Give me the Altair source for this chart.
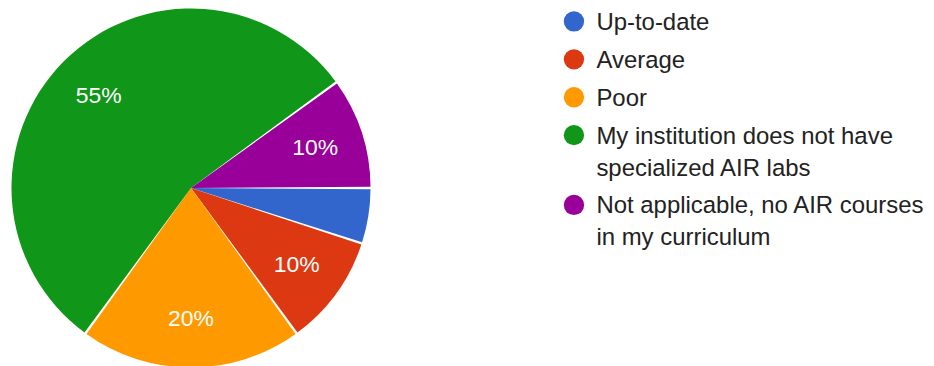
import math
import altair as alt
import pandas as pd

# ---- data ----
categories = [
    "Up-to-date",
    "Average",
    "Poor",
    "My institution does not have specialized AIR labs",
    "Not applicable, no AIR courses in my curriculum",
]
legend_lines = [
    ["Up-to-date"],
    ["Average"],
    ["Poor"],
    ["My institution does not have", "specialized AIR labs"],
    ["Not applicable, no AIR courses", "in my curriculum"],
]
values = [5, 10, 20, 55, 10]
pct_labels = ["", "10%", "20%", "55%", "10%"]
colors = ["#3366cc", "#dc3912", "#ff9900", "#109618", "#990099"]

# legend row positions (in line units) derived from the number of wrapped lines
gap = 6 / 32
pos, acc = [], 0.0
for i, lines in enumerate(legend_lines):
    pos.append(acc)
    acc += len(lines) + gap

df = pd.DataFrame({
    "cat": categories,
    "value": values,
    "pct": pct_labels,
    "idx": list(range(len(categories))),
    "lines": legend_lines,
    "pos": pos,
})

color_scale = alt.Scale(domain=categories, range=colors)
theta_scale = alt.Scale(range=[math.pi / 2, math.pi / 2 + 2 * math.pi])

base = alt.Chart(df).encode(
    theta=alt.Theta("value:Q", stack=True, scale=theta_scale),
    order=alt.Order("idx:Q"),
)

arcs = base.mark_arc(outerRadius=180, padAngle=2.4 / 180, strokeWidth=0).encode(
    color=alt.Color("cat:N", scale=color_scale, legend=None)
)
texts = base.mark_text(
    radius=131, fontSize=23, font="Liberation Sans", color="white",
    align="center", baseline="middle"
).encode(text="pct:N")

pie = alt.layer(arcs, texts).properties(width=360, height=360)

yscale = alt.Scale(domain=[-13 / 32, 347 / 32], range=[0, 360])
leg_base = alt.Chart(df).encode(
    y=alt.Y("pos:Q", scale=yscale, axis=None)
)
dots = leg_base.mark_circle(size=415, opacity=1).encode(
    x=alt.value(14),
    color=alt.Color("cat:N", scale=color_scale, legend=None),
)
labels = leg_base.mark_text(
    align="left", baseline="alphabetic", dy=8.5, fontSize=24,
    font="Liberation Sans", color="#222222", lineHeight=32
).encode(x=alt.value(36.5), text="lines")

legend = alt.layer(dots, labels).properties(width=350, height=360)

chart = alt.hconcat(pie, legend, spacing=190).properties(
    padding={"left": 3.5, "top": 0, "right": 0, "bottom": 0}
).configure_view(stroke=None)

chart.save("out.html", embed_options={"renderer": "svg", "actions": False})
